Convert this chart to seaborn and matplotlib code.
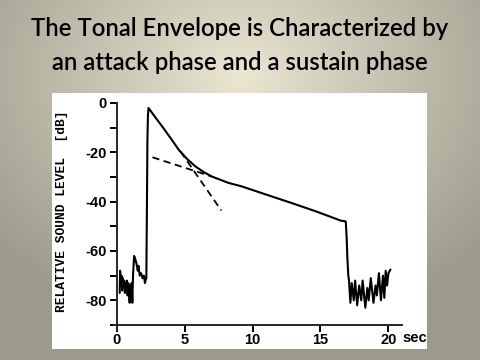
import numpy as np
import pandas as pd
import matplotlib
matplotlib.use("Agg")
import matplotlib.pyplot as plt
import seaborn as sns
from matplotlib.patches import Rectangle

# ---- data ----
pre_t = [0.22, 0.25, 0.30, 0.35, 0.40, 0.45, 0.50, 0.55, 0.60, 0.65, 0.70, 0.75, 0.80, 0.85,
         0.90, 0.95, 1.00, 1.05, 1.10, 1.15, 1.20, 1.28, 1.35, 1.45, 1.55, 1.60, 1.70, 1.80,
         1.90, 2.00, 2.08, 2.12, 2.18]
pre_db = [-77, -68, -74, -70, -76, -71, -74, -72, -77, -73, -75, -72, -78, -73,
          -76, -81, -74, -79, -73, -81, -70, -62, -63, -65, -68, -66, -70, -69,
          -71, -70, -73, -72, -71]
attack_t = [2.22, 2.26, 2.30, 2.34]
attack_db = [-45, -15, -5, -2]
decay_t = [2.8, 3.36, 4.0, 4.57, 5.2, 5.79, 6.4, 7.0, 8.23, 9.2, 10.66, 12.85, 14.7, 16.5, 16.86]
decay_db = [-5.5, -9.6, -14.5, -19.0, -22.8, -25.7, -28.0, -29.8, -32.4, -33.8, -36.5, -40.5, -44.0, -47.7, -48.0]
release_t = [16.93, 16.98, 17.05, 17.10]
release_db = [-55, -63, -70, -72]
tail_t = [17.2, 17.3, 17.45, 17.55, 17.7, 17.85, 18.0, 18.1, 18.3, 18.45, 18.55, 18.7,
          18.9, 19.05, 19.15, 19.3, 19.45, 19.6, 19.7, 19.8, 19.9, 20.0, 20.15]
tail_db = [-81, -73, -80, -72, -82, -74, -80, -72, -83, -75, -80, -71,
           -81, -74, -78, -69, -80, -70, -79, -68, -74, -69, -67.5]

sustain_line_t = [2.63, 7.0]
sustain_line_db = [-22.0, -29.8]
attack_line_t = [4.7, 7.7]
attack_line_db = [-19.7, -43.6]

x_ticks = [0, 5, 10, 15, 20]
y_major = [0, -20, -40, -60, -80]
y_minor = [-10, -30, -50, -70, -90]

title_lines = ["The Tonal Envelope is Characterized by",
               "an attack phase and a sustain phase"]
y_label = "RELATIVE SOUND LEVEL  [dB]"
x_unit = "sec"

# ---- build table ----
env = pd.DataFrame({
    "t": pre_t + attack_t + decay_t + release_t + tail_t,
    "db": pre_db + attack_db + decay_db + release_db + tail_db,
})
dash1 = pd.DataFrame({"t": sustain_line_t, "db": sustain_line_db})
dash2 = pd.DataFrame({"t": attack_line_t, "db": attack_line_db})

sns.set_style("ticks")
W, H = 480, 360
fig = plt.figure(figsize=(4.8, 3.6), dpi=100)

# background radial gradient
bg = fig.add_axes([0, 0, 1, 1], zorder=-10)
yy, xx = np.mgrid[0:H, 0:W]
d = np.sqrt(((xx - 240) / 330.0) ** 2 + ((yy - 75) / 260.0) ** 2)
d = np.clip(d, 0, 1) ** 0.9
light = np.array([236, 232, 212]) / 255.0
dark = np.array([156, 154, 140]) / 255.0
img = light[None, None, :] * (1 - d[..., None]) + dark[None, None, :] * d[..., None]
bg.imshow(img, extent=[0, W, H, 0], aspect="auto", interpolation="bilinear")
bg.set_xlim(0, W)
bg.set_ylim(H, 0)
bg.axis("off")

# white panel
fig.patches.append(Rectangle((52 / W, 1 - 349 / H), (427 - 52) / W, (349 - 93) / H,
                             transform=fig.transFigure, facecolor="white",
                             edgecolor="none", zorder=-5))

# main axes
ax = fig.add_axes([114 / W, 1 - 325 / H, 288 / W, 222 / H])
ax.set_facecolor("none")
sns.lineplot(data=env, x="t", y="db", ax=ax, color="black", linewidth=1.5,
             sort=False, estimator=None)
sns.lineplot(data=dash1, x="t", y="db", ax=ax, color="black", linewidth=1.3,
             linestyle=(0, (4, 2.5)), sort=False, estimator=None)
sns.lineplot(data=dash2, x="t", y="db", ax=ax, color="black", linewidth=1.3,
             linestyle=(0, (4, 2.5)), sort=False, estimator=None)

ax.set_xlim(-0.2, 21.0)
ax.set_ylim(-90, 0)
ax.spines["left"].set_position(("data", 0))
ax.spines["left"].set_bounds(-92, 0)
for s in ["top", "right"]:
    ax.spines[s].set_visible(False)
for s in ["left", "bottom"]:
    ax.spines[s].set_linewidth(1.4)
ax.set_xticks(x_ticks)
ax.set_yticks(y_major)
ax.set_yticks(y_minor, minor=True)
ax.tick_params(axis="both", which="both", direction="out", width=1.4, color="black")
ax.tick_params(axis="x", length=5, pad=1)
ax.tick_params(axis="y", which="major", length=5, pad=2)
ax.tick_params(axis="y", which="minor", length=5)
ax.set_xlabel("")
ax.set_ylabel("")
ax.set_yticklabels([str(v) for v in y_major])
for lab in ax.get_xticklabels() + ax.get_yticklabels():
    lab.set_fontfamily("Liberation Sans")
    lab.set_fontsize(10.5)
    lab.set_fontweight("bold")
    lab.set_color("black")

ax.text(21.0, -0.028, x_unit, transform=ax.get_xaxis_transform(), ha="left", va="top",
        fontsize=10.5, fontweight="bold", fontfamily="Liberation Sans", color="black",
        clip_on=False)

fig.text(62 / W, 1 - 211 / H, y_label, rotation=90, ha="center", va="center",
         fontsize=9.3, fontweight="bold", fontfamily="Liberation Mono", color="black")

fig.text(0.5, 1 - 28 / H, title_lines[0], ha="center", va="center",
         fontsize=17.2, fontfamily="Lato", fontweight="semibold", color="black")
fig.text(0.5, 1 - 62 / H, title_lines[1], ha="center", va="center",
         fontsize=17.2, fontfamily="Lato", fontweight="semibold", color="black")

fig.savefig("out.png", dpi=100)
